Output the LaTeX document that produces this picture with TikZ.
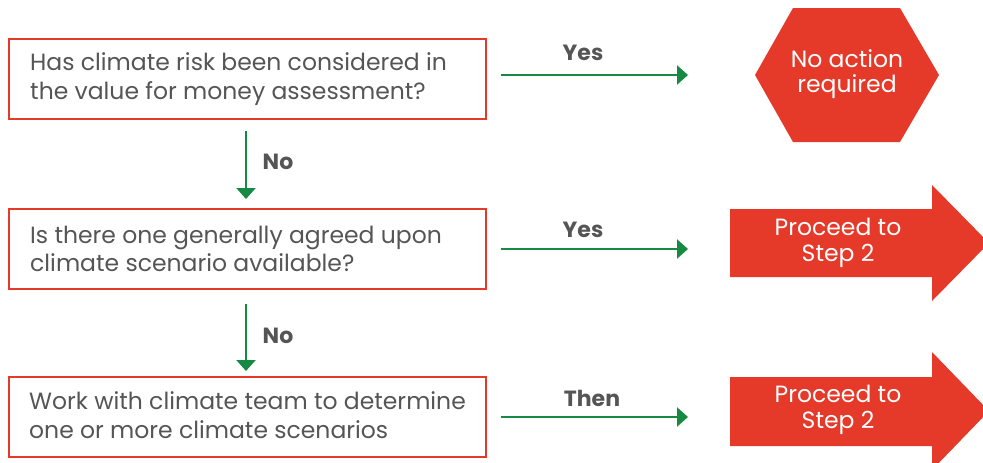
\documentclass[tikz,border=0pt]{standalone}
\usepackage{fontspec}
\setmainfont{Poppins}
\usetikzlibrary{arrows.meta}

\definecolor{boxred}{HTML}{E5392A}
\definecolor{flowgreen}{HTML}{168A42}
\definecolor{txtgray}{HTML}{555555}

\begin{document}
\begin{tikzpicture}[x=1pt,y=-1pt,
  qbox/.style={draw=boxred, line width=2pt, minimum width=477pt, minimum height=80pt, inner sep=0pt},
  qtext/.style={anchor=west, align=left, inner sep=0pt, text=txtgray, font=\fontsize{23.5}{28.5}\selectfont},
  flow/.style={draw=flowgreen, line width=2.5pt, -{Triangle[length=11pt,width=19pt]}},
  lbl/.style={text=txtgray, font=\bfseries\fontsize{22}{24}\selectfont},
  endtxt/.style={align=center, inner sep=0pt, text=white, font=\fontsize{23.5}{25.5}\selectfont}]
  \useasboundingbox (0,0) rectangle (983,463);

  % question boxes
  \node[qbox] (q1) at (247.5,79) {};
  \node[qbox] (q2) at (247.5,249) {};
  \node[qbox] (q3) at (247.5,417) {};
  \node[qtext] (t1) at (30,79) {Has climate risk been considered in\\the value for money assessment?};
  \node[qtext] (t2) at (30,249) {Is there one generally agreed upon\\climate scenario available?};
  \node[qtext] (t3) at (29,415) {Work with climate team to determine\\one or more climate scenarios};

  % end shapes: hexagon and two block arrows
  \fill[boxred] (755,75) -- (793,8) -- (900,8) -- (939,75) -- (900,142) -- (793,142) -- cycle;
  \coordinate (hexW) at (755,75);
  \node[endtxt] (noact) at (847,74) {No action\\required};

  \fill[boxred] (730,209) -- (932,209) -- (932,185) -- (989,243) -- (932,301) -- (932,277) -- (730,277) -- cycle;
  \coordinate (go1tail) at (730,243);
  \node[endtxt] (go1) at (838,243) {Proceed to\\Step 2};

  \fill[boxred] (730,377) -- (932,377) -- (932,352) -- (989,411) -- (932,470) -- (932,446) -- (730,446) -- cycle;
  \coordinate (go2tail) at (730,411);
  \node[endtxt] (go2) at (838,410) {Proceed to\\Step 2};

  % connectors
  \draw[flow, shorten <=14pt, shorten >=67pt] (q1.east |- hexW) -- (hexW);
  \draw[flow, shorten <=14pt, shorten >=42pt] (q2.east) -- (q2.east -| go1tail);
  \draw[flow, shorten <=14pt, shorten >=42pt] (q3.east) -- (q3.east -| go2tail);
  \draw[flow, shorten <=11pt, shorten >=9pt] ([xshift=-1.5pt]q1.south) -- ([xshift=-1.5pt]q2.north);
  \draw[flow, shorten <=14pt, shorten >=5pt] ([xshift=-1.5pt]q2.south) -- ([xshift=-1.5pt]q3.north);

  % connector labels
  \node[lbl] (yes1) at (583,53) {Yes};
  \node[lbl] (yes2) at (583,230) {Yes};
  \node[lbl] (then) at (592,398) {Then};
  \node[lbl] (no1) at (278,162) {No};
  \node[lbl] (no2) at (278,336) {No};
\end{tikzpicture}
\end{document}
